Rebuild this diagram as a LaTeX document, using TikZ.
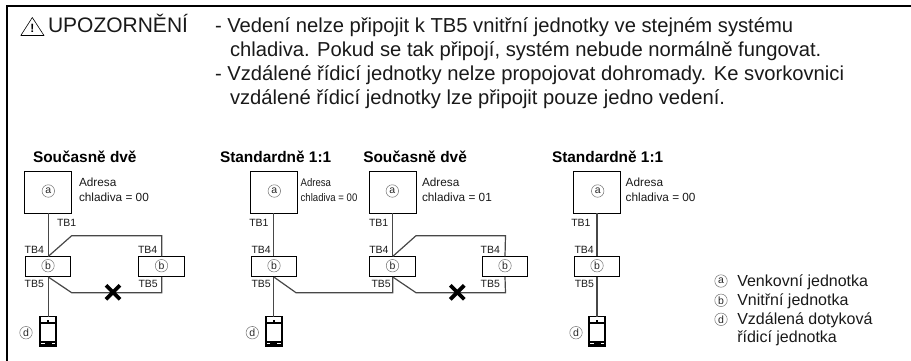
\documentclass[tikz,border=0pt]{standalone}
\usepackage{fontspec}
\setmainfont{Liberation Sans}
\newcommand{\remote}[2]{%
  \node[remotebody] (#1) at #2 {};
  \fill[black] ([yshift=-5.6pt]#1.north west) rectangle ([yshift=-7.4pt]#1.north east);
  \fill[black] ([xshift=-1.2pt,yshift=-3.2pt]#1.north) rectangle ([xshift=1.2pt,yshift=-5.6pt]#1.north);
  \fill[black] ([yshift=4pt]#1.south west) rectangle ([yshift=5.5pt]#1.south east);
  \fill[black] (#1.south west) rectangle ([yshift=2.2pt]#1.south east);
  \fill[black] ([xshift=-3.5pt,yshift=2.2pt]#1.south) rectangle ([xshift=3.5pt,yshift=4pt]#1.south);
}
\tikzset{
  x=1pt,y=-1pt,
  every node/.style={inner sep=0pt,outer sep=0pt},
  outdoor/.style={draw=black,line width=1pt,fill=white,minimum width=47pt,minimum height=41.5pt},
  indoor/.style={draw=black,line width=1pt,fill=white,minimum width=45.5pt,minimum height=20.5pt},
  remotebody/.style={draw=black,line width=1.6pt,fill=white,minimum width=16pt,minimum height=30pt},
  wire/.style={draw=black!72,line width=1.2pt,line join=miter},
  circ/.style={draw=black!55,line width=.5pt,circle,minimum size=12.5pt,font=\fontsize{10.5}{10.5}\selectfont,text=black!85},
  lab/.style={anchor=base west,font=\fontsize{11.8}{13}\selectfont,text=black!90},
  narrowlab/.style={anchor=base west,font=\fontsize{11}{13}\selectfont,xscale=.87,text=black!90},
  tb/.style={anchor=base west,font=\fontsize{10.5}{12}\selectfont,text=black!90},
  title/.style={anchor=base west,font=\fontsize{15.4}{17}\selectfont\bfseries},
  warn/.style={anchor=base west,font=\fontsize{20.2}{24}\selectfont,text=black!90},
  warnhead/.style={anchor=base west,font=\fontsize{21}{24}\selectfont,text=black!90},
  legend/.style={anchor=base west,font=\fontsize{16}{18}\selectfont,text=black!90},
  cross/.style={line width=3.8pt,black},
}
\begin{document}
\begin{tikzpicture}
\useasboundingbox (0,0) rectangle (911,360);
\draw[line width=2.2pt,line cap=rect] (7,360) -- (7,6) -- (911,6);
% warning
\draw[line width=.6pt,line join=round] (32.3,17.5) -- (44,35.5) -- (20.8,35.5) -- cycle;
\node[font=\fontsize{12}{12}\selectfont\bfseries] (excl) at (32.3,28.5) {!};
\node[warnhead] (upoz) at (48,32.5) {UPOZORNĚNÍ};
\node[warn] (w1) at (215,32.7) {- Vedení nelze připojit k TB5 vnitřní jednotky ve stejném systému};
\node[warn] (w2) at (230,56.6) {chladiva. Pokud se tak připojí, systém nebude normálně fungovat.};
\node[warn] (w3) at (215,80.4) {- Vzdálené řídicí jednotky nelze propojovat dohromady. Ke svorkovnici};
\node[warn] (w4) at (230,104.2) {vzdálené řídicí jednotky lze připojit pouze jedno vedení.};
% titles
\node[title] (t1) at (33,162.7) {Současně dvě};
\node[title] (t2) at (220,162.7) {Standardně 1:1};
\node[title] (t3) at (363.3,162.7) {Současně dvě};
\node[title] (t4) at (552,162.7) {Standardně 1:1};
% panel 1
\node[outdoor] (o1) at (48.2,192.3) {};
\node[indoor] (i1) at (48.2,266.7) {};
\node[indoor] (i1b) at (161.7,266.7) {};
\remote{r1}{(48.2,331.5)}
\coordinate (c1a) at (71.7,235.7); \coordinate (c1b) at (161.7,235.7);
\coordinate (c1c) at (71.7,292.7); \coordinate (c1d) at (161.7,292.7);
\draw[wire] (o1.south) -- (i1.north);
\draw[wire] (i1.south) -- (r1.north);
\draw[wire] (i1.north) -- (c1a) -- (c1b) -- (i1b.north);
\draw[wire] (i1.south) -- (c1c) -- (c1d) -- (i1b.south);
\coordinate (x1) at (113,292.3);
\draw[cross] ([shift={(-7,-7)}]x1) -- ([shift={(7,7)}]x1);
\draw[cross] ([shift={(-7,7)}]x1) -- ([shift={(7,-7)}]x1);
\node[circ] (ca1) at (48.3,191) {a};
\node[circ] (cb1) at (48,265.7) {b};
\node[circ] (cb1b) at (161.5,265.7) {b};
\node[circ] (cd1) at (26,332.7) {d};
\node[lab] (ad1) at (79,186.7) {Adresa};
\node[lab] (ch1) at (79,201.7) {chladiva = 00};
\node[tb] (tb11) at (57,226) {TB1};
\node[tb] (tb41) at (24.7,253.7) {TB4};
\node[tb] (tb51) at (24.7,287.7) {TB5};
\node[tb] (tb41b) at (138,253.7) {TB4};
\node[tb] (tb51b) at (138.5,287.7) {TB5};
% panel 2
\node[outdoor] (o2) at (273.8,192.3) {};
\node[indoor] (i2) at (273.8,266.7) {};
\remote{r2}{(273.8,331.5)}
\coordinate (c2a) at (296,292.7); \coordinate (c2b) at (392.7,292.7);
\draw[wire] (o2.south) -- (i2.north);
\draw[wire] (i2.south) -- (r2.north);
\node[circ] (ca2) at (274.3,191) {a};
\node[circ] (cb2) at (274,265.7) {b};
\node[circ] (cd2) at (252.3,332.7) {d};
\node[narrowlab] (ad2) at (300.7,186.7) {Adresa};
\node[narrowlab] (ch2) at (300.7,201.7) {chladiva = 00};
\node[tb] (tb12) at (249.3,226) {TB1};
\node[tb] (tb42) at (251.5,253.7) {TB4};
\node[tb] (tb52) at (251.5,287.7) {TB5};
% panel 3
\node[outdoor] (o3) at (392.7,192.3) {};
\node[indoor] (i3) at (392.7,266.7) {};
\node[indoor] (i3b) at (505,266.7) {};
\coordinate (c3a) at (416,235.7); \coordinate (c3b) at (505.5,235.7);
\coordinate (c3c) at (416,292.7); \coordinate (c3d) at (505.5,292.7);
\draw[wire] (i2.south) -- (c2a) -- (c2b) -- (i3.south);
\draw[wire] (o3.south) -- (i3.north);
\draw[wire] (i3.north) -- (c3a) -- (c3b) -- (i3b.north);
\draw[wire] (i3.south) -- (c3c) -- (c3d) -- (i3b.south);
\coordinate (x3) at (457.3,292.3);
\draw[cross] ([shift={(-7,-7)}]x3) -- ([shift={(7,7)}]x3);
\draw[cross] ([shift={(-7,7)}]x3) -- ([shift={(7,-7)}]x3);
\node[circ] (ca3) at (392.3,191) {a};
\node[circ] (cb3) at (392.5,265.7) {b};
\node[circ] (cb3b) at (505,265.7) {b};
\node[lab] (ad3) at (422,186.7) {Adresa};
\node[lab] (ch3) at (422,201.7) {chladiva = 01};
\node[tb] (tb13) at (369,226) {TB1};
\node[tb] (tb43) at (369.3,253.7) {TB4};
\node[tb] (tb53) at (371.5,287.7) {TB5};
\node[tb] (tb43b) at (480.7,253.7) {TB4};
\node[tb] (tb53b) at (480.7,287.7) {TB5};
% panel 4
\node[outdoor] (o4) at (597,192.3) {};
\node[indoor] (i4) at (597,266.7) {};
\remote{r4}{(597,331.5)}
\draw[wire] (o4.south) -- (i4.north);
\draw[wire] (i4.south) -- (r4.north);
\node[circ] (ca4) at (597.7,191) {a};
\node[circ] (cb4) at (597,265.7) {b};
\node[circ] (cd4) at (576,332.7) {d};
\node[lab] (ad4) at (625.7,186.7) {Adresa};
\node[lab] (ch4) at (625.7,201.7) {chladiva = 00};
\node[tb] (tb14) at (571.3,226) {TB1};
\node[tb] (tb44) at (574.5,253.7) {TB4};
\node[tb] (tb54) at (574.8,287.7) {TB5};
% legend
\node[circ] (la) at (721,281) {a};
\node[circ] (lb) at (721,300.3) {b};
\node[circ] (ld) at (721,319.3) {d};
\node[legend] (l1) at (737.3,286.7) {Venkovní jednotka};
\node[legend] (l2) at (737.3,305.7) {Vnitřní jednotka};
\node[legend] (l3) at (737.3,324.3) {Vzdálená dotyková};
\node[legend] (l4) at (737.3,342.7) {řídicí jednotka};
\end{tikzpicture}
\end{document}
